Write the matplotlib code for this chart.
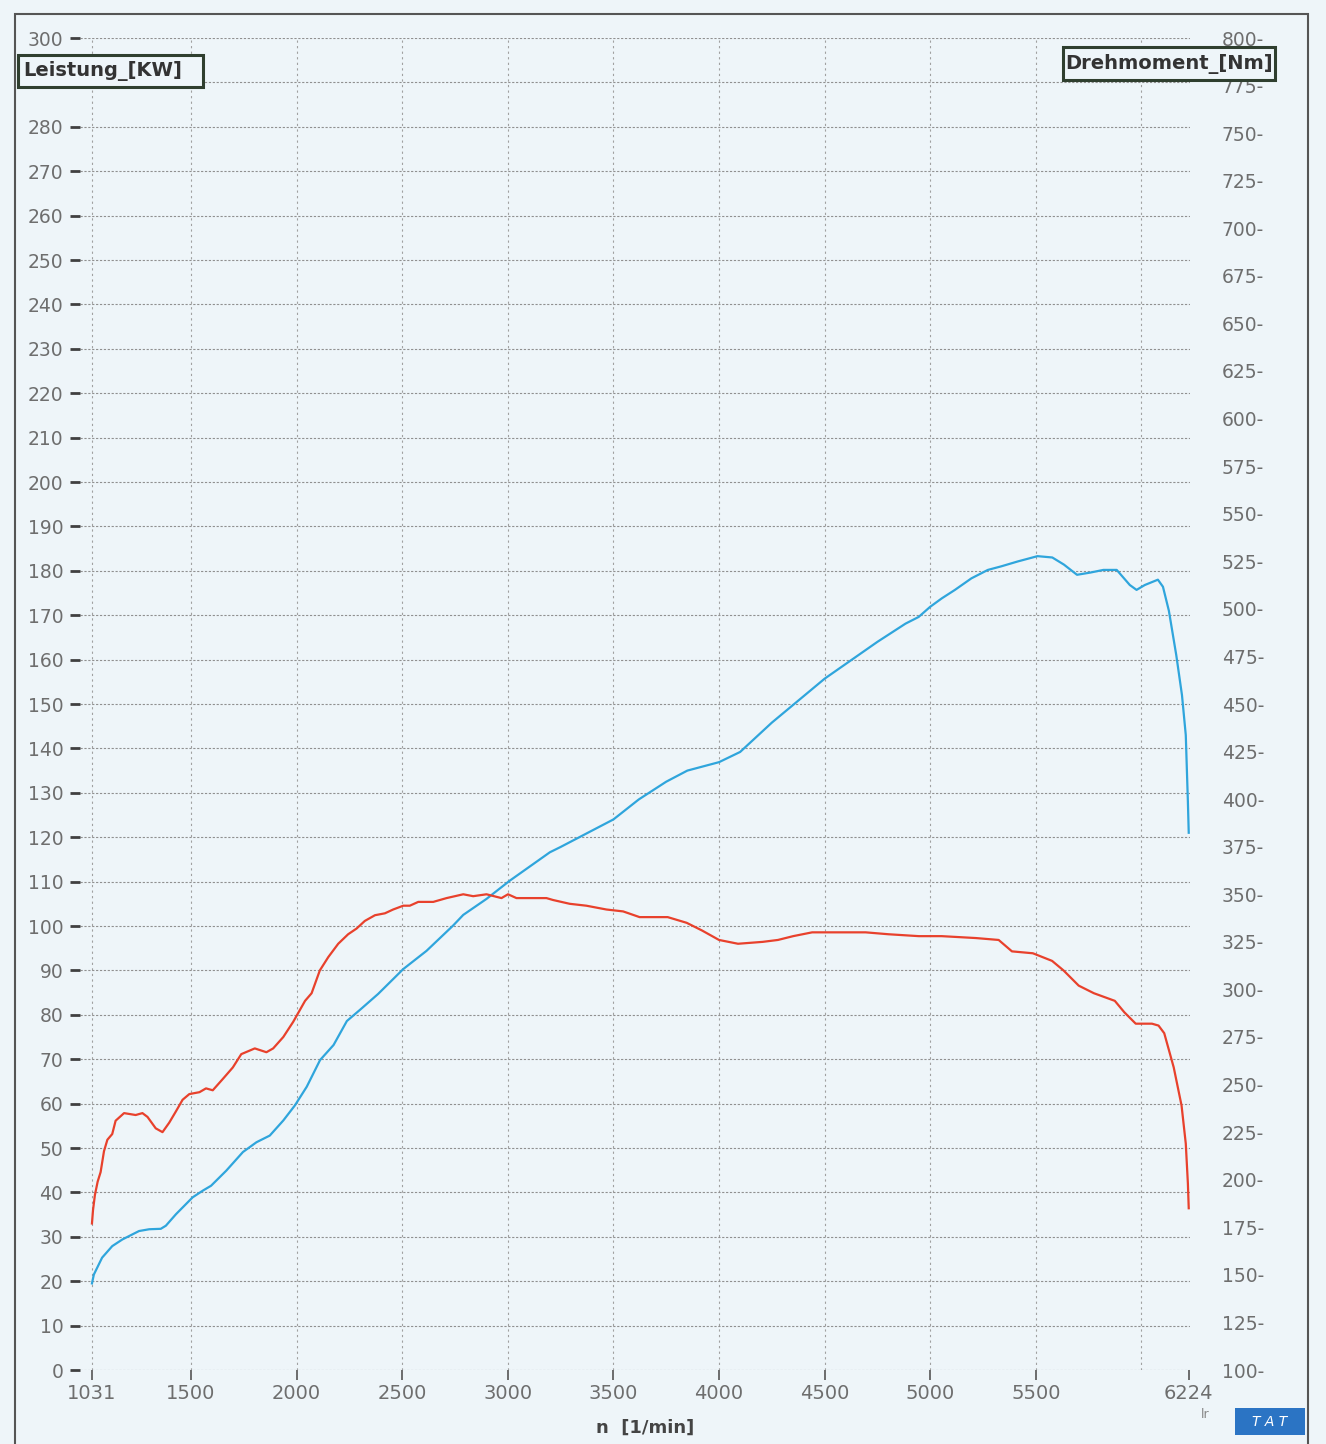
import matplotlib.pyplot as plt
from matplotlib.patches import Rectangle
from matplotlib.ticker import FuncFormatter

# power curve (blue, left axis, kW)
power_rpm = [1031, 1040, 1079, 1127, 1175, 1254, 1302, 1357, 1381, 1429,
             1508, 1556, 1595, 1667, 1746, 1810, 1873, 1937, 1992, 2048,
             2111, 2175, 2238, 2302, 2386, 2505, 2615, 2741, 2789, 2899,
             3009, 3199, 3250, 3500, 3620, 3750, 3850, 4000, 4100, 4250,
             4500, 4750, 4883, 4945, 5000, 5055, 5117, 5195, 5273, 5336,
             5414, 5508, 5578, 5633, 5695, 5758, 5820, 5883, 5945, 5977,
             6016, 6078, 6102, 6130, 6165, 6192, 6210, 6220, 6224]
power_kw = [19.5, 21.5, 25.3, 27.9, 29.4, 31.3, 31.7, 31.8, 32.5, 35.1,
            38.9, 40.4, 41.5, 44.9, 49.1, 51.3, 52.8, 56.2, 59.6, 63.8,
            69.8, 73.2, 78.6, 81.2, 84.7, 90.3, 94.4, 100.1, 102.5, 106.1,
            110.2, 116.6, 117.8, 124.0, 128.5, 132.5, 135.0, 136.9, 139.2, 145.8,
            155.7, 164.0, 168.1, 169.6, 171.9, 173.8, 175.7, 178.3, 180.2, 181.0,
            182.1, 183.3, 183.0, 181.4, 179.1, 179.6, 180.2, 180.2, 176.8, 175.7,
            176.8, 178.0, 176.4, 171.0, 161.0, 152.0, 143.0, 128.0, 121.0]

# torque curve (red, right axis, Nm)
torque_rpm = [1031, 1036, 1045, 1058, 1072, 1088, 1104, 1127, 1143, 1183,
              1238, 1270, 1294, 1333, 1365, 1397, 1429, 1460, 1492, 1540,
              1571, 1603, 1651, 1698, 1738, 1802, 1857, 1889, 1937, 1984,
              2040, 2071, 2110, 2150, 2197, 2244, 2284, 2323, 2371, 2418,
              2457, 2505, 2536, 2576, 2647, 2710, 2789, 2836, 2899, 2970,
              3001, 3041, 3136, 3183, 3214, 3293, 3372, 3467, 3546, 3624,
              3688, 3757, 3847, 3919, 4000, 4090, 4207, 4279, 4351, 4441,
              4586, 4694, 4802, 4946, 5054, 5216, 5324, 5387, 5486, 5577,
              5631, 5703, 5775, 5874, 5919, 5973, 6050, 6081, 6108, 6153,
              6190, 6210, 6220, 6224]
torque_nm = [177, 184, 192, 199, 204, 215, 221, 224, 231, 235,
             234, 235, 233, 227, 225, 230, 236, 242, 245, 246,
             248, 247, 253, 259, 266, 269, 267, 269, 275, 283,
             294, 298, 310, 317, 324, 329, 332, 336, 339, 340,
             342, 344, 344, 346, 346, 348, 350, 349, 350, 348,
             350, 348, 348, 348, 347, 345, 344, 342, 341, 338,
             338, 338, 335, 331, 326, 324, 325, 326, 328, 330,
             330, 330, 329, 328, 328, 327, 326, 320, 319, 315,
             310, 302, 298, 294, 288, 282, 282, 281, 277, 259,
             239, 219, 198, 185]

x_ticks = [1031, 1500, 2000, 2500, 3000, 3500, 4000, 4500, 5000, 5500, 6224]
x_grid = [1031, 1500, 2000, 2500, 3000, 3500, 4000, 4500, 5000, 5500, 6000]
kw_ticks = list(range(0, 301, 10))
nm_ticks = list(range(100, 801, 25))

W, H = 1326, 1444
bg = '#eef5f9'
tick_col = '#6e6e6e'

fig = plt.figure(figsize=(W / 100, H / 100), dpi=100, facecolor=bg)

ax = fig.add_axes([80 / W, 1 - 1370 / H, (1190 - 80) / W, (1370 - 38) / H])
ax.set_facecolor(bg)
ax.set_xlim(974.4, 6230)
ax.set_ylim(0, 300)
for s in ax.spines.values():
    s.set_visible(False)

ax.xaxis.remove_overlapping_locs = False
ax.set_xticks(x_ticks)
ax.set_xticks(x_grid, minor=True)
ax.set_yticks(kw_ticks)
# 290 sits under the "Leistung" box in the original
ax.set_yticklabels(['' if v == 290 else str(v) for v in kw_ticks])
ax.grid(axis='y', which='major', color='#909090', lw=0.8, ls=(0, (2, 1.5)))
ax.grid(axis='x', which='minor', color='#a0a0a0', lw=0.8, ls=(0, (2, 3)))
ax.tick_params(axis='x', which='minor', length=0)
ax.tick_params(axis='x', which='major', length=7, width=1.2, color='#555555',
               labelsize=14, labelcolor=tick_col, pad=3)
ax.tick_params(axis='y', length=7, width=2, color='#404040',
               labelsize=13.5, labelcolor=tick_col, pad=5)

ax.plot(power_rpm, power_kw, color='#2fa5dc', lw=1.6, zorder=3)

ax2 = ax.twinx()
ax2.set_ylim(100, 800)
for s in ax2.spines.values():
    s.set_visible(False)
ax2.set_yticks(nm_ticks)
ax2.yaxis.set_major_formatter(FuncFormatter(lambda v, p: f"{v:.0f}-"))
ax2.tick_params(axis='y', length=0, labelsize=13.5, labelcolor=tick_col, pad=23)
ax2.plot(torque_rpm, torque_nm, color='#e8412c', lw=1.6, zorder=3)

# outer frame
fig.add_artist(Rectangle((15 / W, -0.01), (1308 - 15) / W, 1 - 14 / H + 0.01,
                         transform=fig.transFigure, fill=False,
                         edgecolor='#555555', lw=1.5, zorder=1))

# axis title boxes
fig.add_artist(Rectangle((18 / W, 1 - 87 / H), 185 / W, 32 / H,
                         transform=fig.transFigure, facecolor=bg,
                         edgecolor='#2f3f2f', lw=2.2, zorder=10))
fig.text(23 / W, 1 - 71 / H, 'Leistung_[KW]', fontsize=14, fontweight='bold',
         color='#333333', va='center', ha='left', zorder=11)

fig.add_artist(Rectangle((1063 / W, 1 - 80 / H), 212 / W, 33 / H,
                         transform=fig.transFigure, facecolor=bg,
                         edgecolor='#2f3f2f', lw=2.2, zorder=10))
fig.text(1169 / W, 1 - 63.5 / H, 'Drehmoment_[Nm]', fontsize=14, fontweight='bold',
         color='#333333', va='center', ha='center', zorder=11)

fig.text(645 / W, 1 - 1428 / H, 'n  [1/min]', fontsize=13, fontweight='bold',
         color='#444444', va='center', ha='center')

fig.text(1205 / W, 1 - 1414 / H, 'lr', fontsize=9, color='#888888',
         va='center', ha='center')
fig.add_artist(Rectangle((1235 / W, 1 - 1435 / H), 70 / W, 27 / H,
                         transform=fig.transFigure, facecolor='#2b74c4',
                         edgecolor='none', zorder=10))
fig.text(1270 / W, 1 - 1421.5 / H, 'T A T', fontsize=10, style='italic',
         color='white', va='center', ha='center', zorder=11)

fig.savefig('out.png', dpi=100, facecolor=bg)
